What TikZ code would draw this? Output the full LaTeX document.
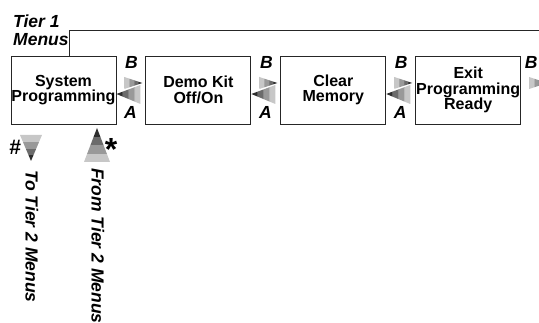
\documentclass[tikz,border=0pt]{standalone}
\usepackage{fontspec}
\setmainfont{Liberation Sans}
\usetikzlibrary{positioning}

% stepped grey bands, light on the left, dark on the right
\pgfdeclarehorizontalshading{greysteps}{100bp}{color(0bp)=(black!22); color(37.5bp)=(black!22);
  color(37.51bp)=(black!40); color(50bp)=(black!40); color(50.01bp)=(black!58); color(62.5bp)=(black!58);
  color(62.51bp)=(black!82); color(100bp)=(black!82)}

\tikzset{
  menubox/.style={draw=black!85,line width=0.9pt,minimum width=105pt,minimum height=68pt,inner sep=0pt,align=center,font=\fontsize{16}{15.5}\selectfont\bfseries},
  tag/.style={inner sep=0pt,font=\fontsize{17.5}{18}\selectfont\bfseries\itshape},
  vlabel/.style={tag,rotate=-90,anchor=west},
  bands/.style={shading=greysteps,shading angle=#1}
}

\begin{document}
\begin{tikzpicture}[x=1pt,y=1pt]
  \useasboundingbox (0,0) rectangle (539,-323); \clip (0,0) rectangle (539,-323);
  \node[menubox] (sys) at (63.5,-90) {System\\Programming};
  \node[menubox,right=29pt of sys] (demo) {Demo Kit\\Off/On};
  \node[menubox,right=29pt of demo] (clr) {Clear\\Memory};
  \node[menubox,right=29pt of clr] (exit) {Exit\\Programming\\Ready};
  \node[tag,anchor=north west,align=left] (tier) at (13,-15) {Tier 1\\Menus};
  \coordinate (frm) at (69,-30);
  \draw[black!85,line width=0.9pt] (frm |- sys.north) -- (frm) -- (545,-30);
  % B / A arrows between the menus
  \foreach \a/\bx in {sys/15,demo/15,clr/15,exit/10}{
    \node[tag] (b-\a) at ([shift={(\bx,28)}]\a.east) {B};
    \shade[bands=0] ([shift={(8,13)}]\a.east) -- ([shift={(8,1)}]\a.east) -- ([shift={(26,7)}]\a.east) -- cycle;
  }
  \foreach \a in {sys,demo,clr}{
    \node[tag] (a-\a) at ([shift={(14,-22)}]\a.east) {A};
    \shade[bands=180] ([shift={(24,5)}]\a.east) -- ([shift={(24,-14)}]\a.east) -- ([shift={(0,-4)}]\a.east) -- cycle;
  }
  % to and from tier 2
  \shade[bands=270] (20,-135) -- (42,-135) -- (31,-161) -- cycle;
  \shade[bands=90] (84,-162) -- (110,-162) -- (97,-128) -- cycle;
  \node[tag,font=\fontsize{21}{21}\selectfont\bfseries\itshape] (hash) at (15,-147) {\#};
  \node[tag,anchor=north,font=\fontsize{32}{32}\selectfont\bfseries] (star) at (111,-138) {*};
  \node[vlabel] (totier) at (32,-170) {To Tier 2 Menus};
  \node[vlabel] (fromtier) at (98,-168) {From Tier 2 Menus};
\end{tikzpicture}
\end{document}
